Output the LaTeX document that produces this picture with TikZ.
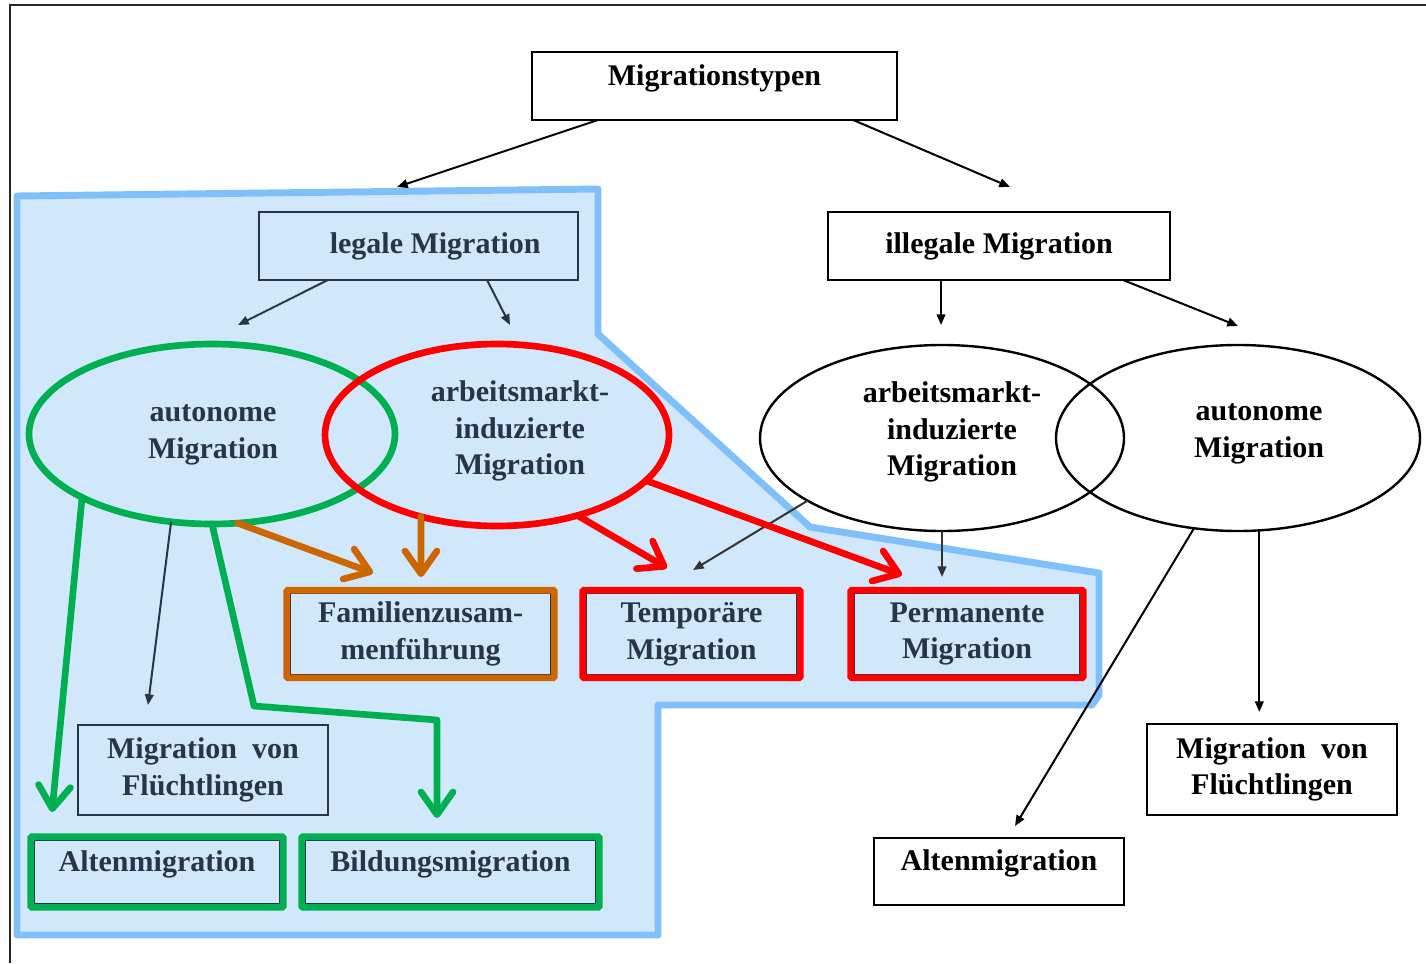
\documentclass[tikz,border=0pt]{standalone}
\usepackage{fontspec}
\setmainfont{Liberation Serif}
\usetikzlibrary{arrows.meta,shapes.geometric,fit}

\definecolor{arealine}{RGB}{128,192,250}
\definecolor{areafill}{RGB}{209,231,252}
\definecolor{slate}{RGB}{40,52,74}
\definecolor{hlgreen}{RGB}{0,176,80}
\definecolor{hlred}{RGB}{255,0,0}
\definecolor{hlorange}{RGB}{204,102,0}

\tikzset{
  lbl/.style={align=center, inner sep=0pt, font=\fontsize{22.5}{27.5}\selectfont\bfseries},
  box/.style={lbl, draw, line width=2pt, outer sep=0pt},
  hightext/.style={text height=15pt, text depth=16pt},
  inbox/.style={box, draw=slate, text=slate, line width=1.4pt},
  oval/.style={ellipse, draw, line width=1.8pt, inner sep=0pt, outer sep=0pt},
  thin/.style={line width=1.5pt, -{Triangle[length=8pt,width=6.5pt]}},
  fat/.style={line width=5pt, line cap=round, line join=round, -{Straight Barb[length=17pt,width=24pt,round]}},
  hl/.style={draw=#1, line width=5pt, inner sep=2.5pt, rounded corners=1pt},
}

\begin{document}
\begin{tikzpicture}[x=0.75pt,y=0.75pt,yscale=-1,xscale=1]
\useasboundingbox (0,0) rectangle (1426,963);

%frame
\draw [line width=2.2pt, black!85] (10,963) -- (10,5) -- (1426,5);

%legal area
\draw [arealine, fill=areafill, line width=5.2pt, line join=round] (17,196) -- (598,189) -- (598,334) -- (810,527) -- (1099,573) -- (1099,695) -- (1092,705) -- (658,705) -- (658,935) -- (17,935) -- cycle;

%top level
\node [box, hightext, minimum width=273.75pt, minimum height=51pt] (typ) at (714.5,86) {Migrationstypen};
\node [inbox, minimum width=239.25pt, minimum height=51pt] (leg) at (418.5,246) {\hspace*{25pt}legale Migration};
\node [box, minimum width=256.5pt, minimum height=51pt] (ill) at (999,246) {illegale Migration};

%ellipses
\node [oval, draw=hlgreen, line width=5pt, minimum width=274.5pt, minimum height=135pt] (autoL) at (212,434) {};
\node [oval, draw=hlred, line width=5pt, minimum width=258pt, minimum height=136.5pt] (arbL) at (497,435) {};
\node [oval, minimum width=273pt, minimum height=139.5pt] (arbR) at (942,438) {};
\node [oval, minimum width=273pt, minimum height=139.5pt] (autoR) at (1238,438) {};

\node [lbl, text=slate] (autoLt) at (213,435) {autonome\\Migration};
\node [lbl, text=slate] (arbLt) at (520,431) {arbeitsmarkt-\\induzierte\\Migration};
\node [lbl] (arbRt) at (952,432) {arbeitsmarkt-\\induzierte\\Migration};
\node [lbl] (autoRt) at (1259,434) {autonome\\Migration};

%boxes inside the area
\node [inbox, minimum width=195.75pt, minimum height=60.75pt] (fam) at (420.5,634) {Familienzusam-\\menführung};
\node [inbox, minimum width=158.25pt, minimum height=60.75pt] (temp) at (691.5,634) {Temporäre\\Migration};
\node [inbox, minimum width=169.5pt, minimum height=60.75pt] (perm) at (967,634) {Permanente\\Migration};
\node [inbox, minimum width=187.5pt, minimum height=67.5pt] (mvfL) at (203,770) {Migration\ \ von\\Flüchtlingen};
\node [inbox, hightext, minimum width=184.5pt, minimum height=48pt] (altL) at (157,872) {Altenmigration};
\node [inbox, hightext, minimum width=218.25pt, minimum height=48pt] (bild) at (450.5,872) {Bildungsmigration};

\node [hl=hlorange, fit=(fam)] (famhl) {};
\node [hl=hlred, fit=(temp)] (temphl) {};
\node [hl=hlred, fit=(perm)] (permhl) {};
\node [hl=hlgreen, fit=(altL)] (altLhl) {};
\node [hl=hlgreen, fit=(bild)] (bildhl) {};

%boxes on the right
\node [box, minimum width=187.5pt, minimum height=68.25pt] (mvfR) at (1272,769.5) {Migration\ \ von\\Flüchtlingen};
\node [box, hightext, minimum width=187.5pt, minimum height=50.25pt] (altR) at (999,871.5) {Altenmigration};

%arrow tips
\coordinate (tLeg) at (397,187);
\coordinate (tIll) at (1010,187);
\coordinate (tAutoL) at (238,325);
\coordinate (tArbL) at (510,325);
\coordinate (tArbR) at (941,325);
\coordinate (tAutoR) at (1238,326);
\coordinate (tMvfL) at (148,705);
\coordinate (tFam) at (373,573);
\coordinate (tFam2) at (421,577);
\coordinate (tTemp) at (667,568);
\coordinate (tTemp2) at (693,570);
\coordinate (tPerm) at (902,575);
\coordinate (tPerm2) at (942,577);
\coordinate (tAlt) at (52,812);
\coordinate (tBild) at (437,818);
\coordinate (tAltR) at (1015,826);

%thin arrows
\draw [thin] ([xshift=-87.4pt]typ.south) -- (tLeg);
\draw [thin] ([xshift=104pt]typ.south) -- (tIll);
\draw [thin, slate] ([xshift=-67.9pt]leg.south) -- (tAutoL);
\draw [thin, slate] ([xshift=51.4pt]leg.south) -- (tArbL);
\draw [thin] ([xshift=-43.5pt]ill.south) -- (tArbR);
\draw [thin] ([xshift=93pt]ill.south) -- (tAutoR);
\draw [thin, slate] (autoL.-115) -- (tMvfL);
\draw [thin, black!80] (arbR.205) -- (tTemp2);
\draw [thin, black!80] (arbR.south) -- (tPerm2);
\draw [thin, shorten >=9pt] (autoR.-77) -- (autoR.-77 |- mvfR.north);
\draw [thin] (autoR.-116) -- (tAltR);

%highlighted arrows
\draw [fat, hlorange] (autoL.-74) -- (tFam);
\draw [fat, hlorange] (arbL.-133) -- (tFam2);
\draw [fat, hlred] (arbL.-45) -- (tTemp);
\draw [fat, hlred] (arbL.-17) -- (tPerm);
\draw [fat, hlgreen] (autoL.206) -- (tAlt);
\draw [fat, hlgreen] (autoL.south) -- (254,706) -- (437,720) -- (tBild);

\end{tikzpicture}
\end{document}
